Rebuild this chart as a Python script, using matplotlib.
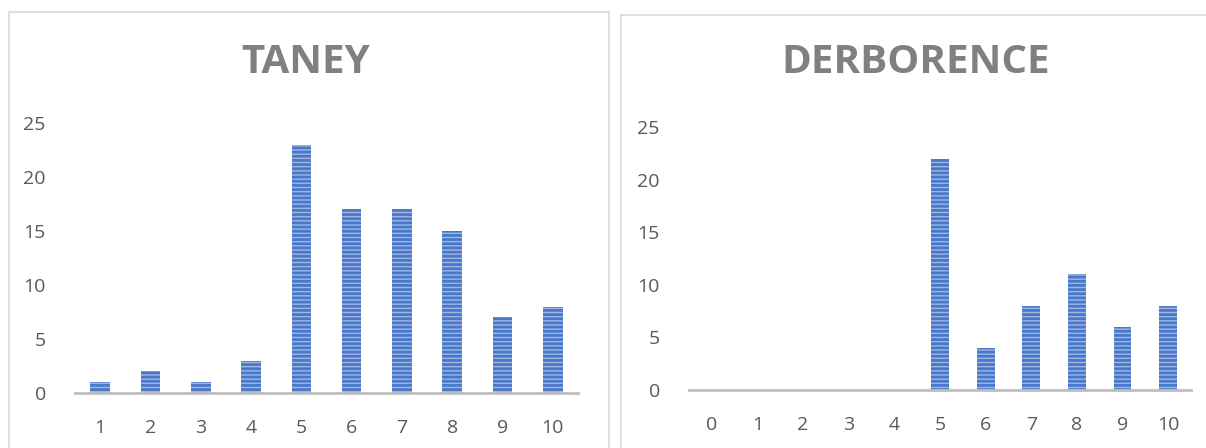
import numpy as np
import matplotlib.pyplot as plt
from matplotlib.patches import Rectangle

plt.rcParams['font.family'] = ['Open Sans', 'DejaVu Sans']
plt.rcParams['hatch.linewidth'] = 2.0

taney_x = [1, 2, 3, 4, 5, 6, 7, 8, 9, 10]
taney_y = [1, 2, 1, 3, 23, 17, 17, 15, 7, 8]
derb_x = [0, 1, 2, 3, 4, 5, 6, 7, 8, 9, 10]
derb_y = [0, 0, 0, 0, 0, 22, 4, 8, 11, 6, 8]
yticks = [0, 5, 10, 15, 20, 25]

W, H = 1206, 448
fig = plt.figure(figsize=(W / 100, H / 100), dpi=100)

# panel borders
fig.patches.append(Rectangle((9 / W, -0.1), 600 / W, 1.1 - 12 / H,
                             transform=fig.transFigure, fill=False,
                             edgecolor='#d9d9d9', lw=1.2))
fig.patches.append(Rectangle((621 / W, -0.1), 600 / W, 1.1 - 15 / H,
                             transform=fig.transFigure, fill=False,
                             edgecolor='#d9d9d9', lw=1.2))


def panel(rect, xs, ys, title, xlim, title_x, title_y):
    ax = fig.add_axes(rect)
    ax.bar(xs, ys, width=0.39, color='#9fb6e4', edgecolor='#4a78c8',
           linewidth=0, hatch='----')
    ax.set_xlim(*xlim)
    ax.set_ylim(0, 25)
    ax.set_yticks(yticks)
    ax.set_xticks(xs)
    for s in ['top', 'left', 'right']:
        ax.spines[s].set_visible(False)
    ax.spines['bottom'].set_color('#bfbfbf')
    ax.spines['bottom'].set_linewidth(2)
    ax.tick_params(axis='both', length=0, labelsize=14, labelcolor='#595959')
    ax.tick_params(axis='y', pad=21)
    ax.tick_params(axis='x', pad=19)
    fig.text(title_x / W, 1 - title_y / H, title, ha='center', va='center',
             fontsize=29, fontweight='bold', color='#808080')
    return ax


panel([75 / W, 55 / H, 503 / W, 270 / H], taney_x, taney_y, 'TANEY',
      (0.5, 10.5), 306, 62)
panel([689 / W, 58 / H, 502 / W, 263 / H], derb_x, derb_y, 'DERBORENCE',
      (-0.5, 10.5), 916, 62)

fig.savefig('out.png', dpi=100)
